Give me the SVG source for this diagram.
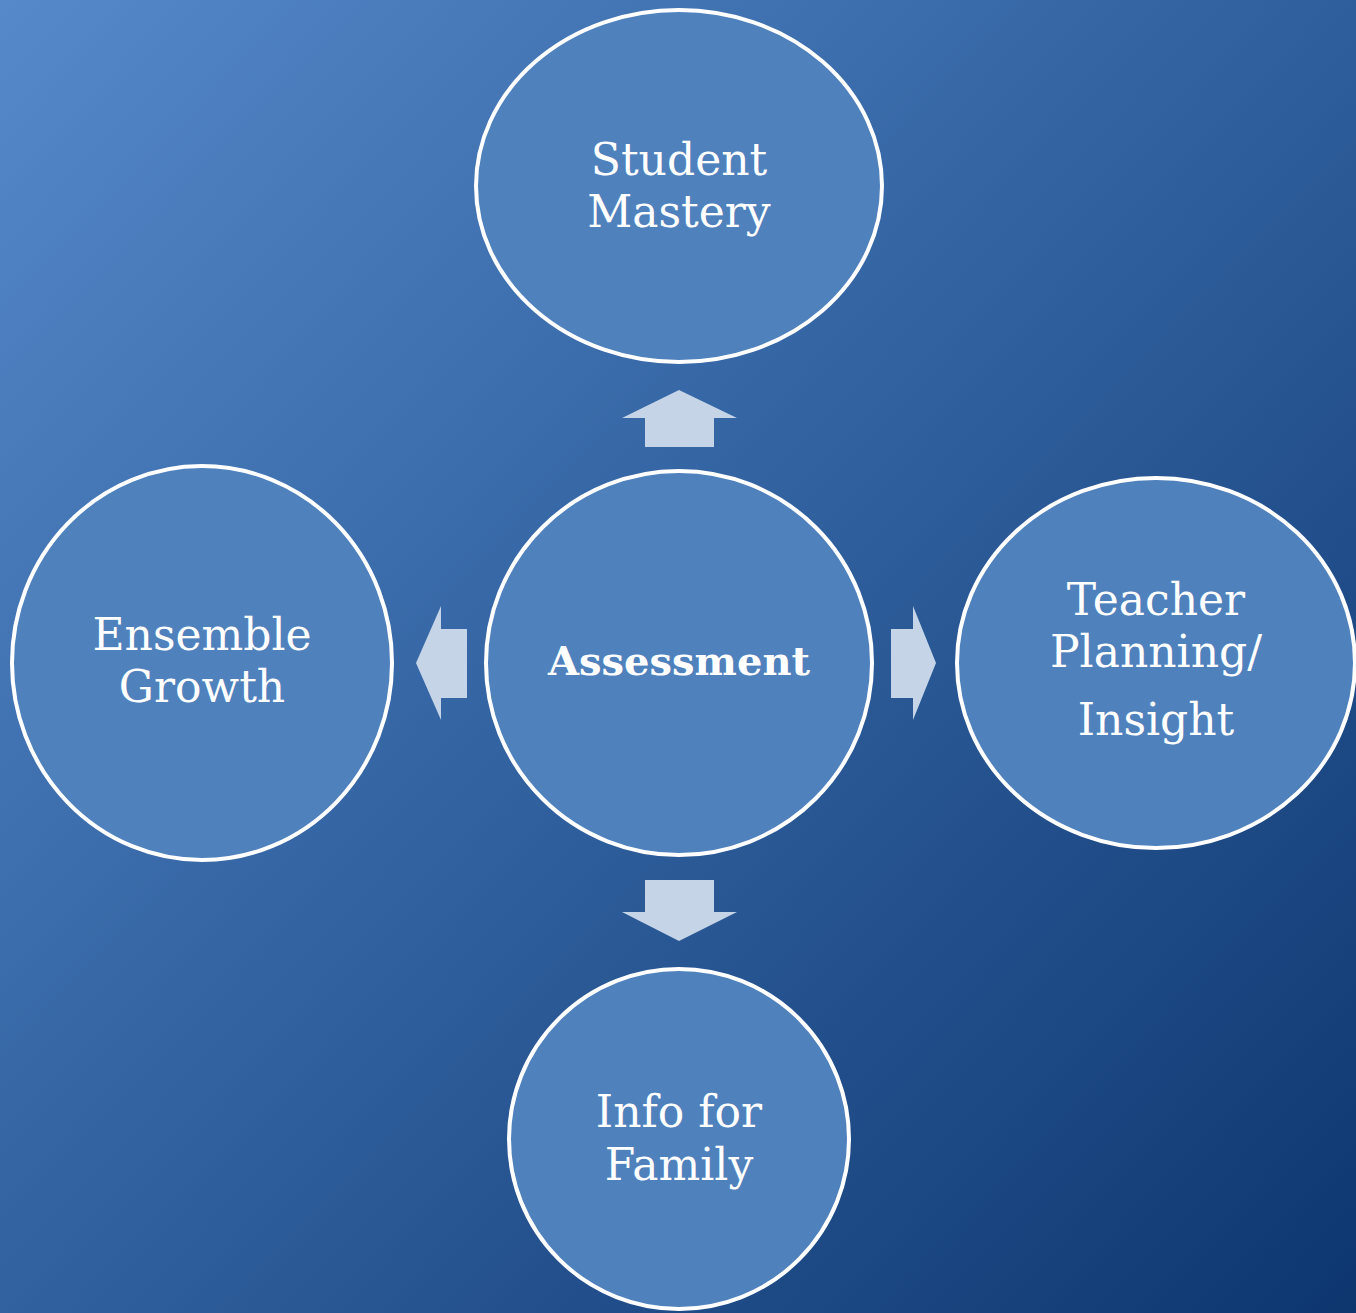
<svg xmlns="http://www.w3.org/2000/svg" width="1356" height="1313" viewBox="0 0 1356 1313">
<defs>
<linearGradient id="bg" x1="0" y1="0" x2="1356" y2="1313" gradientUnits="userSpaceOnUse">
<stop offset="0" stop-color="#5689ca"/>
<stop offset="0.5" stop-color="#30609e"/>
<stop offset="1" stop-color="#0d366f"/>
</linearGradient>
<style>
.node{fill:#4f81bd;stroke:#ffffff;stroke-width:4}
.lbl{font-family:"DejaVu Serif","Liberation Serif",serif;font-size:44px;fill:#ffffff;text-anchor:middle}
.bold{font-weight:bold;font-size:40px}
.arr{fill:#c5d5e7}
</style>
</defs>
<rect width="1356" height="1313" fill="url(#bg)"/>
<g id="connectors">
<polygon class="arr" points="679,390 737,418 714,418 714,447 645,447 645,418 622,418"/>
<polygon class="arr" points="416,663 441,606 441,629 467,629 467,698 441,698 441,720"/>
<polygon class="arr" points="936,663 913,606 913,629 891,629 891,698 913,698 913,720"/>
<polygon class="arr" points="679,941 737,912 714,912 714,880 645,880 645,912 622,912"/>
</g>
<g id="student-mastery">
<ellipse class="node" cx="679" cy="186" rx="203" ry="176"/>
<text class="lbl" x="679" y="175">Student</text>
<text class="lbl" x="679" y="227">Mastery</text>
</g>
<g id="assessment">
<ellipse class="node" cx="679" cy="663" rx="193" ry="192"/>
<text class="lbl bold" x="679" y="675">Assessment</text>
</g>
<g id="ensemble-growth">
<ellipse class="node" cx="202" cy="663" rx="190" ry="197"/>
<text class="lbl" x="202" y="650">Ensemble</text>
<text class="lbl" x="202" y="702">Growth</text>
</g>
<g id="teacher-planning">
<ellipse class="node" cx="1156" cy="663" rx="199" ry="185"/>
<text class="lbl" x="1156" y="615">Teacher</text>
<text class="lbl" x="1156" y="667">Planning/</text>
<text class="lbl" x="1156" y="735">Insight</text>
</g>
<g id="info-for-family">
<ellipse class="node" cx="679" cy="1139" rx="170" ry="170"/>
<text class="lbl" x="679" y="1127">Info for</text>
<text class="lbl" x="679" y="1180">Family</text>
</g>
</svg>
